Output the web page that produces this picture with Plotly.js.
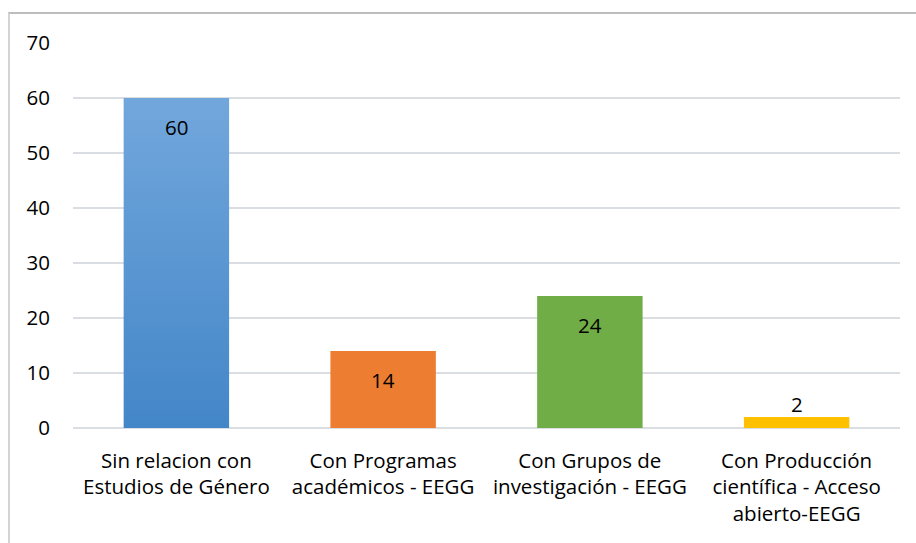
<!DOCTYPE html>
<html>
<head>
<meta charset="utf-8">
<script src="https://cdn.plot.ly/plotly-3.0.1.min.js"></script>
<style>
  html, body { margin: 0; padding: 0; background: #fff; }
  #wrap { position: relative; width: 916px; height: 543px; overflow: hidden; }
  #chart { width: 916px; height: 543px; }
  #frame { position: absolute; left: 8px; top: 12px; width: 940px; height: 560px;
           border-left: 2px solid #d4d4d4; border-top: 2px solid #bdbdbd; pointer-events: none; }
</style>
</head>
<body>
<svg width="0" height="0" style="position:absolute">
  <defs>
    <linearGradient id="blueGrad" x1="0" y1="0" x2="0" y2="1">
      <stop offset="0" stop-color="#72a7dc"/>
      <stop offset="1" stop-color="#4386c8"/>
    </linearGradient>
  </defs>
</svg>
<div id="wrap">
  <div id="chart"></div>
  <div id="frame"></div>
</div>
<script>
const categories = [
  "Sin relacion con<br>Estudios de Género",
  "Con Programas<br>académicos - EEGG",
  "Con Grupos de<br>investigación - EEGG",
  "Con Producción<br>científica - Acceso<br>abierto-EEGG"
];
const values = [60, 14, 24, 2];
const barColors = ["#5b9bd5", "#ed7d31", "#70ad47", "#ffc000"];
const yTicks = [0, 10, 20, 30, 40, 50, 60, 70];

const FONT = "'Open Sans', 'Noto Sans', sans-serif";
const FS = 20.5;

const trace = {
  type: "bar",
  x: categories,
  y: values,
  marker: { color: barColors, line: { width: 0 } },
  hoverinfo: "skip"
};

const annotations = values.map((v, i) => ({
  x: categories[i],
  y: v,
  xref: "x",
  yref: "y",
  text: String(v),
  showarrow: false,
  yanchor: "middle",
  yshift: v > 5 ? -29 : 13,
  font: { family: FONT, size: FS, color: "#000" }
}));

const layout = {
  width: 916,
  height: 543,
  margin: { l: 73, r: 16, t: 43, b: 115 },
  paper_bgcolor: "#fff",
  plot_bgcolor: "#fff",
  showlegend: false,
  bargap: 0.49,
  font: { family: FONT, size: FS, color: "#000" },
  xaxis: {
    type: "category",
    showgrid: false,
    showline: false,
    ticks: "",
    ticklabelstandoff: 18,
    tickfont: { family: FONT, size: FS, color: "#000" },
    tickangle: 0,
    automargin: false
  },
  yaxis: {
    range: [0, 70],
    tickvals: yTicks,
    ticktext: yTicks.map(String),
    showgrid: true,
    gridcolor: "#dadde2",
    gridwidth: 1.5,
    zeroline: true,
    zerolinecolor: "#dadde2",
    zerolinewidth: 1.5,
    showline: false,
    ticks: "",
    ticklabelstandoff: 22,
    tickfont: { family: FONT, size: FS, color: "#000" },
    automargin: false
  },
  annotations: annotations
};

Plotly.newPlot("chart", [trace], layout, { displayModeBar: false, staticPlot: true }).then(() => {
  const paths = document.querySelectorAll("#chart .trace.bars .point path");
  if (paths.length) {
    paths[0].style.fill = "url(#blueGrad)";
  }
});
</script>
</body>
</html>
